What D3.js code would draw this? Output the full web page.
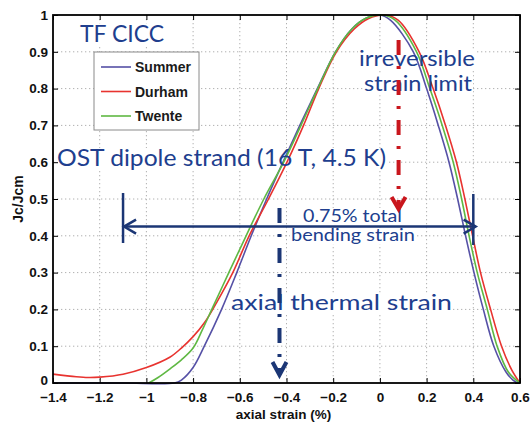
<!DOCTYPE html>
<html><head><meta charset="utf-8">
<script src="https://cdn.jsdelivr.net/npm/d3@7/dist/d3.min.js"></script>
<style>body{margin:0;background:#fff}svg{display:block}</style>
</head><body>
<svg id="c" width="530" height="422"></svg>
<script>
// ---- data ----
const seriesNames = ["Summer", "Durham", "Twente"];
const summerStrain = [-1.4, -1.1, -0.88, -0.85, -0.8, -0.752, -0.678, -0.613, -0.551, -0.485, -0.415, -0.343, -0.268, -0.19, -0.12, -0.06, 0, 0.045, 0.143, 0.2, 0.25, 0.296, 0.333, 0.367, 0.403, 0.443, 0.488, 0.54, 0.57, 0.59];
const summerJc     = [0, 0, 0, 0.008, 0.042, 0.1, 0.2, 0.3, 0.4, 0.5, 0.6, 0.7, 0.8, 0.9, 0.962, 0.991, 1, 0.986, 0.9, 0.8, 0.7, 0.6, 0.5, 0.4, 0.3, 0.2, 0.1, 0.03, 0.008, 0];
const durhamStrain = [-1.4, -1.3, -1.25, -1.2, -1.1, -1.0, -0.9, -0.85, -0.8, -0.75, -0.7, -0.63, -0.56, -0.477, -0.398, -0.327, -0.262, -0.186, -0.11, -0.05, 0.02, 0.078, 0.168, 0.228, 0.281, 0.328, 0.364, 0.397, 0.431, 0.474, 0.521, 0.565, 0.6];
const durhamJc     = [0.024, 0.017, 0.015, 0.016, 0.024, 0.042, 0.07, 0.095, 0.126, 0.165, 0.218, 0.3, 0.4, 0.5, 0.6, 0.7, 0.8, 0.9, 0.962, 0.99, 1, 0.986, 0.9, 0.8, 0.7, 0.6, 0.5, 0.4, 0.3, 0.2, 0.1, 0.035, 0];
const twenteStrain = [-0.99, -0.95, -0.9, -0.85, -0.8, -0.76, -0.72, -0.647, -0.573, -0.497, -0.412, -0.338, -0.266, -0.19, -0.12, -0.06, 0.01, 0.065, 0.157, 0.214, 0.267, 0.314, 0.35, 0.382, 0.417, 0.46, 0.502, 0.55, 0.6];
const twenteJc     = [0, 0.015, 0.038, 0.063, 0.095, 0.145, 0.2, 0.3, 0.4, 0.5, 0.6, 0.7, 0.8, 0.9, 0.962, 0.991, 1, 0.986, 0.9, 0.8, 0.7, 0.6, 0.5, 0.4, 0.3, 0.2, 0.1, 0.03, 0];
const xTicks = [-1.4, -1.2, -1.0, -0.8, -0.6, -0.4, -0.2, 0, 0.2, 0.4, 0.6];
const xTickLabels = ["\u22121.4", "\u22121.2", "\u22121", "\u22120.8", "\u22120.6", "\u22120.4", "\u22120.2", "0", "0.2", "0.4", "0.6"];
const yTicks = [0, 0.1, 0.2, 0.3, 0.4, 0.5, 0.6, 0.7, 0.8, 0.9, 1];
const yTickLabels = ["0", "0.1", "0.2", "0.3", "0.4", "0.5", "0.6", "0.7", "0.8", "0.9", "1"];
const irreversibleLimit = 0.08;   // % strain
const thermalStrain = -0.43;      // % strain
const bendingFrom = -1.1, bendingTo = 0.38, bendingLevel = 0.425;

// ---- layout ----
const svg = d3.select("#c");
const L = 53, R = 520, T = 15, B = 383;
const x = d3.scaleLinear().domain([-1.4, 0.6]).range([L, R]);
const y = d3.scaleLinear().domain([0, 1]).range([B, T]);
const colors = {Summer: "#5651a6", Durham: "#e8332f", Twente: "#5fb843"};
const navy = "#1b3675", txtBlue = "#203e8e";
const tickFont = "'Liberation Sans', Arial, sans-serif";

// grid
const g = svg.append("g");
g.selectAll(".gx").data(xTicks.slice(1, -1)).join("line")
  .attr("x1", d => x(d)).attr("x2", d => x(d)).attr("y1", T).attr("y2", B)
  .attr("stroke", "#b0b0b0").attr("stroke-width", 1).attr("stroke-dasharray", "1.3,2.7");
g.selectAll(".gy").data(yTicks.slice(1, -1)).join("line")
  .attr("x1", L).attr("x2", R).attr("y1", d => y(d)).attr("y2", d => y(d))
  .attr("stroke", "#b0b0b0").attr("stroke-width", 1).attr("stroke-dasharray", "1.3,2.7");

// annotation texts (with white backgrounds hiding the grid)
const notes = [
  {t: "TF CICC", x: 80, y: 42, s: 24, w: 84},
  {t: "OST dipole strand (16 T, 4.5 K)", x: 57, y: 166, s: 23, w: 329},
  {t: "irreversible", x: 359, y: 66, s: 21, w: 116},
  {t: "strain limit", x: 364, y: 91, s: 21, w: 108},
  {t: "0.75% total", x: 303, y: 222, s: 18, w: 99},
  {t: "bending strain", x: 291, y: 241, s: 17, w: 124},
  {t: "axial thermal strain", x: 231, y: 310, s: 22, w: 221}
];
svg.append("g").selectAll("rect").data(notes).join("rect")
  .attr("x", d => d.x - 1).attr("y", d => d.y - d.s * 0.78).attr("width", d => d.w + 2).attr("height", d => d.s * 0.98)
  .attr("fill", "#fff");

// curves
const line = d3.line().x(d => x(d[0])).y(d => y(d[1])).curve(d3.curveCatmullRom.alpha(0.5));
const series = [
  {name: "Summer", xs: summerStrain, ys: summerJc},
  {name: "Durham", xs: durhamStrain, ys: durhamJc},
  {name: "Twente", xs: twenteStrain, ys: twenteJc}
];
svg.append("g").selectAll("path").data(series).join("path")
  .attr("d", d => line(d.xs.map((v, i) => [v, d.ys[i]])))
  .attr("fill", "none").attr("stroke", d => colors[d.name]).attr("stroke-width", 1.6);

// axes
const ax = svg.append("g").attr("font-family", tickFont);
ax.append("g").attr("transform", `translate(0,${B})`)
  .call(d3.axisBottom(x).tickValues(xTicks).tickFormat((d, i) => xTickLabels[i]).tickSizeInner(-5).tickSizeOuter(0).tickPadding(9))
  .call(s => { s.select(".domain").remove(); s.selectAll("text").attr("font-size", 13.5).attr("font-weight", "bold").attr("fill", "#111"); s.selectAll("line").attr("stroke", "#000"); });
ax.append("g").attr("transform", `translate(0,${T})`)
  .call(d3.axisTop(x).tickValues(xTicks).tickFormat("").tickSizeInner(-5).tickSizeOuter(0))
  .call(s => { s.select(".domain").remove(); s.selectAll("line").attr("stroke", "#000"); });
ax.append("g").attr("transform", `translate(${L},0)`)
  .call(d3.axisLeft(y).tickValues(yTicks).tickFormat((d, i) => yTickLabels[i]).tickSizeInner(-5).tickSizeOuter(0).tickPadding(5))
  .call(s => { s.select(".domain").remove(); s.selectAll("text").attr("font-size", 13.5).attr("font-weight", "bold").attr("fill", "#111")
      .attr("dy", d => d === 0 ? "0.12em" : "0.32em"); s.selectAll("line").attr("stroke", "#000"); });
ax.append("g").attr("transform", `translate(${R},0)`)
  .call(d3.axisRight(y).tickValues(yTicks).tickFormat("").tickSizeInner(-5).tickSizeOuter(0))
  .call(s => { s.select(".domain").remove(); s.selectAll("line").attr("stroke", "#000"); });
svg.append("rect").attr("x", L).attr("y", T).attr("width", R - L).attr("height", B - T)
  .attr("fill", "none").attr("stroke", "#000").attr("stroke-width", 1.8);

// axis titles
svg.append("text").attr("x", (L + R) / 2 - 3).attr("y", 418.5).attr("text-anchor", "middle")
  .attr("font-family", tickFont).attr("font-size", 13.5).attr("font-weight", "bold").attr("fill", "#111").text("axial strain (%)");
svg.append("text").attr("transform", `translate(23,${(T + B) / 2}) rotate(-90)`).attr("text-anchor", "middle")
  .attr("font-family", tickFont).attr("font-size", 14).attr("font-weight", "bold").attr("fill", "#111").text("Jc/Jcm");

// legend
const lg = svg.append("g");
lg.append("rect").attr("x", 94).attr("y", 52).attr("width", 105).attr("height", 78)
  .attr("fill", "#fff").attr("stroke", "#8a8a8a").attr("stroke-width", 1);
seriesNames.forEach((n, i) => {
  const yy = 67 + i * 24.5;
  lg.append("line").attr("x1", 101).attr("x2", 131).attr("y1", yy).attr("y2", yy).attr("stroke", colors[n]).attr("stroke-width", 1.6);
  lg.append("text").attr("x", 135).attr("y", yy).attr("dy", "0.36em").attr("font-family", tickFont)
    .attr("font-size", 14).attr("font-weight", "bold").attr("fill", "#1a1a1a").text(n);
});

// texts
svg.append("g").selectAll("text").data(notes).join("text")
  .attr("x", d => d.x).attr("y", d => d.y).attr("font-family", "Lato, 'Open Sans', sans-serif").attr("font-size", d => d.s)
  .attr("textLength", d => d.w).attr("lengthAdjust", "spacingAndGlyphs").attr("fill", txtBlue).text(d => d.t);

// arrows
const ar = svg.append("g").attr("fill", "none").attr("stroke-linecap", "butt");
const by = y(bendingLevel);
ar.append("line").attr("x1", x(bendingFrom)).attr("x2", x(bendingTo) + 7).attr("y1", by).attr("y2", by).attr("stroke", navy).attr("stroke-width", 2.5);
ar.append("path").attr("d", `M${x(bendingFrom) + 13},${by - 7}L${x(bendingFrom) + 1},${by}L${x(bendingFrom) + 13},${by + 7}`).attr("stroke", navy).attr("stroke-width", 2.5);
ar.append("path").attr("d", `M${x(bendingTo) - 5},${by - 7}L${x(bendingTo) + 7},${by}L${x(bendingTo) - 5},${by + 7}`).attr("stroke", navy).attr("stroke-width", 2.5);
ar.append("line").attr("x1", x(bendingFrom)).attr("x2", x(bendingFrom)).attr("y1", 193).attr("y2", 243).attr("stroke", navy).attr("stroke-width", 2.5);
ar.append("line").attr("x1", x(0.4)).attr("x2", x(0.4)).attr("y1", 194).attr("y2", 245).attr("stroke", navy).attr("stroke-width", 2.5);
const rx = x(irreversibleLimit);
ar.append("line").attr("x1", rx).attr("x2", rx).attr("y1", 40).attr("y2", 206).attr("stroke", "#c9161d").attr("stroke-width", 4).attr("stroke-dasharray", "15,11,3,11");
ar.append("path").attr("d", `M${rx - 7},${197}L${rx},${209}L${rx + 7},${197}`).attr("stroke", "#c9161d").attr("stroke-width", 4);
const tx = x(thermalStrain);
ar.append("line").attr("x1", tx).attr("x2", tx).attr("y1", 208).attr("y2", 372).attr("stroke", navy).attr("stroke-width", 4).attr("stroke-dasharray", "15,11,3,11");
ar.append("path").attr("d", `M${tx - 7},${362}L${tx},${375}L${tx + 7},${362}`).attr("stroke", navy).attr("stroke-width", 4);
</script>
</body></html>
